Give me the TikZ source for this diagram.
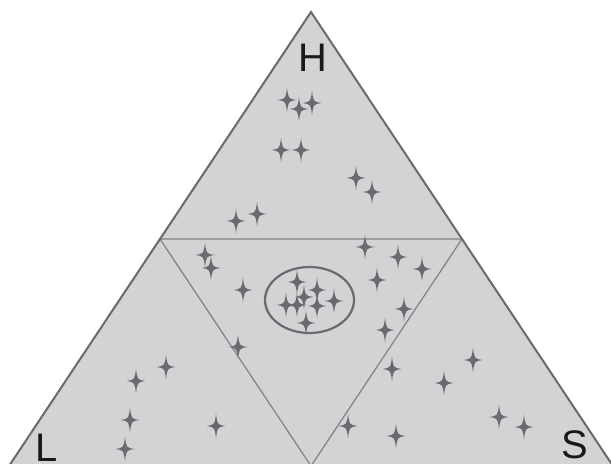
\documentclass[tikz,border=0pt]{standalone}
\usepackage{fontspec}
\setmainfont{Liberation Sans}
\usetikzlibrary{calc}
\definecolor{fillgray}{RGB}{209,211,212}
\definecolor{edgegray}{RGB}{105,106,109}
\definecolor{innergray}{RGB}{128,129,132}
\definecolor{stargray}{RGB}{105,106,110}
\tikzset{
  sparkle/.pic={\fill[stargray] (0,12.5) .. controls (1.3,1.3) .. (9.5,0) .. controls (1.3,-1.3) .. (0,-12.5) .. controls (-1.3,-1.3) .. (-9.5,0) .. controls (-1.3,1.3) .. cycle;},
  vlabel/.style={inner sep=0pt, font=\fontsize{40}{40}\selectfont, text=black!90}
}
\begin{document}
\begin{tikzpicture}[x=1bp,y=-1bp]
\useasboundingbox (0,0) rectangle (611,464);
\clip (0,0) rectangle (611,464);
\coordinate (top) at (311,12);
\coordinate (bl) at (9,466);
\coordinate (br) at (613,466);
\coordinate (ml) at ($(top)!0.5!(bl)$);
\coordinate (mr) at ($(top)!0.5!(br)$);
\coordinate (mb) at ($(bl)!0.5!(br)$);
\fill[fillgray] (top) -- (bl) -- (br) -- cycle;
\draw[innergray, line width=1.2bp] (ml) -- (mr) -- (mb) -- cycle;
\draw[edgegray, line width=2bp, line join=miter] (bl) -- (top) -- (br);
\draw[edgegray, line width=2.2bp] (309.5,300) ellipse [x radius=44.5, y radius=33];
\foreach \p in {(287,100),(299,109),(312,103),(281,150),(301,150),(356,178),(372,192),(257,214),(236,221),
  (205,255),(211,268),(243,290),(365,247),(398,257),(422,269),(377,280),(404,309),(385,330),(238,347),
  (297,282),(317,290),(304,297),(334,301),(286,305),(297,305),(317,306),(306,323),
  (166,367),(136,381),(130,420),(125,449),(216,426),
  (392,369),(473,360),(444,383),(348,426),(396,436),(499,417),(524,427)}
  \pic at \p {sparkle};
\node[vlabel] (H) at (312.5,58) {H};
\node[vlabel] (L) at (47,447.5) {L};
\node[vlabel] (S) at (575,445) {S};
\end{tikzpicture}
\end{document}
